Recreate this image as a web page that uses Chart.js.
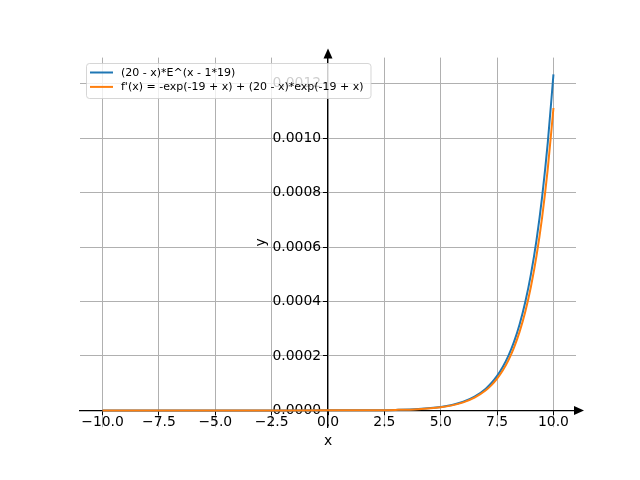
<!DOCTYPE html>
<html>
<head>
<meta charset="utf-8">
<style>
  html, body { margin: 0; padding: 0; background: #ffffff; }
  #wrap { width: 640px; height: 480px; }
</style>
<script src="https://cdn.jsdelivr.net/npm/chart.js@4/dist/chart.umd.min.js"></script>
</head>
<body>
<div id="wrap"><canvas id="plot" width="640" height="480"></canvas></div>
<script>
// sample positions along x
const xs = [-10, -8, -6, -4, -2, 0, 2, 3, 4, 5, 5.5, 6, 6.5, 7, 7.25, 7.5, 7.75, 8, 8.25, 8.5, 8.75, 9, 9.25, 9.5, 9.75, 10];

// (20 - x)*E^(x - 19)
const fValues = [0, 0, 0.0000000004, 0.0000000024, 0.000000017, 0.000000112, 0.000000745, 0.0000019, 0.0000049, 0.0000125,
  0.0000199, 0.0000316, 0.0000503, 0.0000799, 0.0001006, 0.0001266, 0.0001594, 0.0002004, 0.000252, 0.0003167,
  0.0003978, 0.0004994, 0.0006266, 0.0007859, 0.0009851, 0.0012341];

// derivative
const dValues = [0, 0, 0.00000000035, 0.0000000023, 0.000000016, 0.000000106, 0.000000704, 0.0000018, 0.0000046, 0.0000116,
  0.0000185, 0.0000294, 0.0000466, 0.0000737, 0.0000927, 0.0001165, 0.0001464, 0.0001837, 0.0002306, 0.0002892,
  0.0003624, 0.000454, 0.0005683, 0.0007111, 0.000889, 0.0011107];

const seriesLabels = ['(20 - x)*E^(x - 1*19)', "f'(x) = -exp(-19 + x) + (20 - x)*exp(-19 + x)"];
const seriesColors = ['#1f77b4', '#ff7f0e'];

const xTicks = [-10, -7.5, -5, -2.5, 0, 2.5, 5, 7.5, 10];
const yTicks = [0, 0.0002, 0.0004, 0.0006, 0.0008, 0.001, 0.0012];

const xRange = [-11, 11];
const yRange = [-0.0000617, 0.0012958];

const xTitle = 'x';
const yTitle = 'y';

const font = "'DejaVu Sans', sans-serif";

function pts(values) {
  return xs.map((x, i) => ({ x, y: values[i] }));
}

// arrow heads on the spines, y label, and a matplotlib-like legend box
const decorations = {
  id: 'decorations',
  afterDraw(chart) {
    const { ctx, chartArea, scales } = chart;
    const x0 = scales.x.getPixelForValue(0);
    const y0 = scales.y.getPixelForValue(0);
    ctx.save();
    ctx.fillStyle = '#000000';
    ctx.beginPath();
    ctx.moveTo(chartArea.right + 8, y0);
    ctx.lineTo(chartArea.right - 2, y0 - 4.5);
    ctx.lineTo(chartArea.right - 2, y0 + 4.5);
    ctx.closePath();
    ctx.fill();
    ctx.beginPath();
    ctx.moveTo(x0, chartArea.top - 9);
    ctx.lineTo(x0 - 4.5, chartArea.top + 1);
    ctx.lineTo(x0 + 4.5, chartArea.top + 1);
    ctx.closePath();
    ctx.fill();

    // y axis label, reading upwards like matplotlib
    ctx.save();
    ctx.translate(x0 - 67, (chartArea.top + chartArea.bottom) / 2);
    ctx.rotate(-Math.PI / 2);
    ctx.font = '13.9px ' + font;
    ctx.textAlign = 'center';
    ctx.textBaseline = 'middle';
    ctx.fillText(yTitle, 0, 0);
    ctx.restore();

    // legend
    const bx = 86.5, by = 63.5, bw = 284.5, bh = 35;
    ctx.fillStyle = 'rgba(255,255,255,0.8)';
    ctx.strokeStyle = 'rgba(204,204,204,0.8)';
    ctx.lineWidth = 1;
    ctx.beginPath();
    ctx.roundRect(bx, by, bw, bh, 3);
    ctx.fill();
    ctx.stroke();
    ctx.font = '11px ' + font;
    ctx.textBaseline = 'middle';
    chart.data.datasets.forEach((ds, i) => {
      const ry = 72.5 + i * 14.4;
      ctx.strokeStyle = ds.borderColor;
      ctx.lineWidth = 2;
      ctx.beginPath();
      ctx.moveTo(90, ry);
      ctx.lineTo(113, ry);
      ctx.stroke();
      ctx.fillStyle = '#000000';
      ctx.fillText(ds.label, 121, ry + 0.5);
    });
    ctx.restore();
  }
};

new Chart(document.getElementById('plot'), {
  type: 'line',
  data: {
    datasets: seriesLabels.map((label, i) => ({
      label,
      data: pts(i === 0 ? fValues : dValues),
      borderColor: seriesColors[i],
      backgroundColor: seriesColors[i],
      borderWidth: 2,
      pointRadius: 0,
      cubicInterpolationMode: 'monotone',
      fill: false,
      // later series on top, as matplotlib plots them
      order: seriesLabels.length - i
    }))
  },
  options: {
    responsive: false,
    animation: false,
    events: [],
    layout: { padding: { left: 80, right: 64, top: 57.6, bottom: 52.8 } },
    plugins: { legend: { display: false }, tooltip: { enabled: false } },
    scales: {
      x: {
        type: 'linear',
        position: { y: 0 },
        min: xRange[0],
        max: xRange[1],
        afterBuildTicks(scale) { scale.ticks = xTicks.map((v) => ({ value: v })); },
        ticks: {
          color: '#000000',
          font: { family: font, size: 13.9 },
          padding: 0,
          maxRotation: 0,
          callback: (v) => v.toFixed(1).replace('-', '\u2212')
        },
        grid: { color: '#b0b0b0', lineWidth: 1, tickColor: '#000000', tickLength: 4 },
        border: { color: '#000000', width: 1.2 },
        title: { display: true, text: xTitle, color: '#000000', font: { family: font, size: 13.9 }, padding: { top: 2, bottom: 0 } }
      },
      y: {
        type: 'linear',
        position: { x: 0 },
        min: yRange[0],
        max: yRange[1],
        afterBuildTicks(scale) { scale.ticks = yTicks.map((v) => ({ value: v })); },
        ticks: {
          color: '#000000',
          font: { family: font, size: 13.9 },
          padding: 3,
          // en space keeps the right-aligned label clear of the spine
          callback: (v) => v.toFixed(4) + '\u2002'
        },
        grid: { color: '#b0b0b0', lineWidth: 1, tickColor: '#000000', tickLength: 4 },
        border: { color: '#000000', width: 1.2 },
        title: { display: false }
      }
    }
  },
  plugins: [decorations]
});
</script>
</body>
</html>
